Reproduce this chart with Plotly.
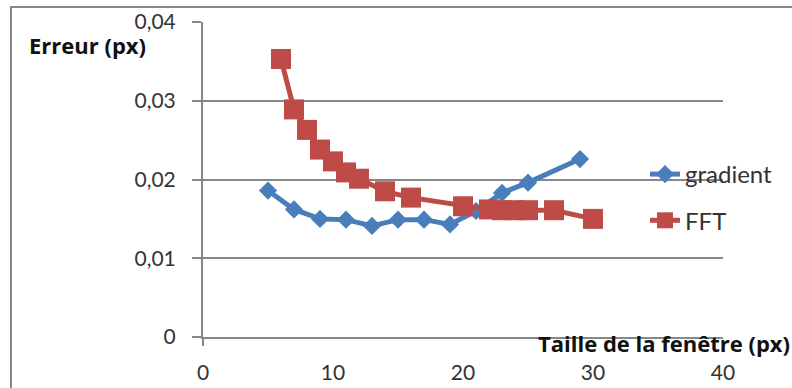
import plotly.graph_objects as go

gradient_x = [5, 7, 9, 11, 13, 15, 17, 19, 21, 23, 25, 29]
gradient_y = [0.0186, 0.0162, 0.0150, 0.0149, 0.0141, 0.0149, 0.0149, 0.0143, 0.0160, 0.0183, 0.0196, 0.0226]

fft_x = [6, 7, 8, 9, 10, 11, 12, 14, 16, 20, 22, 23, 24, 25, 27, 30]
fft_y = [0.0353, 0.0289, 0.0263, 0.0238, 0.0223, 0.0209, 0.0201, 0.0185, 0.0177, 0.0166,
         0.0162, 0.0161, 0.0161, 0.0161, 0.0161, 0.0150]

x_ticks = [0, 10, 20, 30, 40]
x_labels = ["0", "10", "20", "30", "40"]
y_ticks = [0, 0.01, 0.02, 0.03, 0.04]
y_labels = ["0", "0,01", "0,02", "0,03", "0,04"]

FONT = "Lato"
BOLD_FONT = "Open Sans"
GRID = "#878787"
BLUE = "#4A7EBB"
RED = "#BE4B48"

W, H = 792, 388
L, R, T, B = 203, 723, 22, 337

fig = go.Figure()
fig.add_trace(go.Scatter(
    x=gradient_x, y=gradient_y, name="gradient", mode="lines+markers",
    line=dict(color=BLUE, width=5),
    marker=dict(symbol="diamond", size=14, color=BLUE),
    legendgroup="g",
))
fig.add_trace(go.Scatter(
    x=fft_x, y=fft_y, name="FFT", mode="lines+markers",
    line=dict(color=RED, width=5),
    marker=dict(symbol="square", size=20, color=RED),
    legendgroup="f",
))

def px_x(p):
    return (p - L) / (R - L)

def px_y(p):
    return (B - p) / (B - T)

fig.update_layout(
    width=W, height=H,
    margin=dict(l=L, r=W - R, t=T, b=H - B, pad=0, autoexpand=False),
    paper_bgcolor="white", plot_bgcolor="white",
    font=dict(family=FONT, size=21, color="#333333"),
    showlegend=True,
    legend=dict(
        x=px_x(645), y=px_y(152), xanchor="left", yanchor="top",
        bgcolor="rgba(0,0,0,0)", tracegroupgap=12,
        font=dict(family=FONT, size=24, color="#333333"),
    ),
    xaxis=dict(
        range=[0, 40], tickvals=x_ticks, ticktext=x_labels,
        showgrid=False, zeroline=False, automargin=False,
        showline=True, linecolor=GRID, linewidth=2,
        ticks="", ticklabelstandoff=16,
    ),
    yaxis=dict(
        range=[0, 0.04], tickvals=y_ticks, ticktext=y_labels,
        showgrid=True, gridcolor=GRID, gridwidth=2, zeroline=False, automargin=False,
        showline=True, linecolor=GRID, linewidth=2,
        ticks="outside", ticklen=9, tickcolor=GRID, tickwidth=2,
        ticklabelstandoff=12,
    ),
    shapes=[
        dict(type="rect", xref="paper", yref="paper",
             x0=px_x(11), x1=px_x(820), y0=px_y(420), y1=px_y(7),
             line=dict(color=GRID, width=2), fillcolor="rgba(0,0,0,0)", layer="below"),
        dict(type="line", xref="paper", yref="paper",
             x0=0, x1=0, y0=px_y(337), y1=px_y(346),
             line=dict(color=GRID, width=2)),
    ],
    annotations=[
        dict(text="<b>Erreur (px)</b>", xref="paper", yref="paper",
             x=px_x(87), y=px_y(45), xanchor="center", yanchor="middle",
             showarrow=False, font=dict(family=BOLD_FONT, size=22, color="#111111")),
        dict(text="<b>Taille de la fenêtre (px)</b>", xref="paper", yref="paper",
             x=px_x(664), y=px_y(343), xanchor="center", yanchor="middle",
             showarrow=False, font=dict(family=BOLD_FONT, size=22, color="#111111")),
    ],
)

fig.write_html("out.html", config={"displayModeBar": False},
               post_script="document.body.style.margin='0';")
